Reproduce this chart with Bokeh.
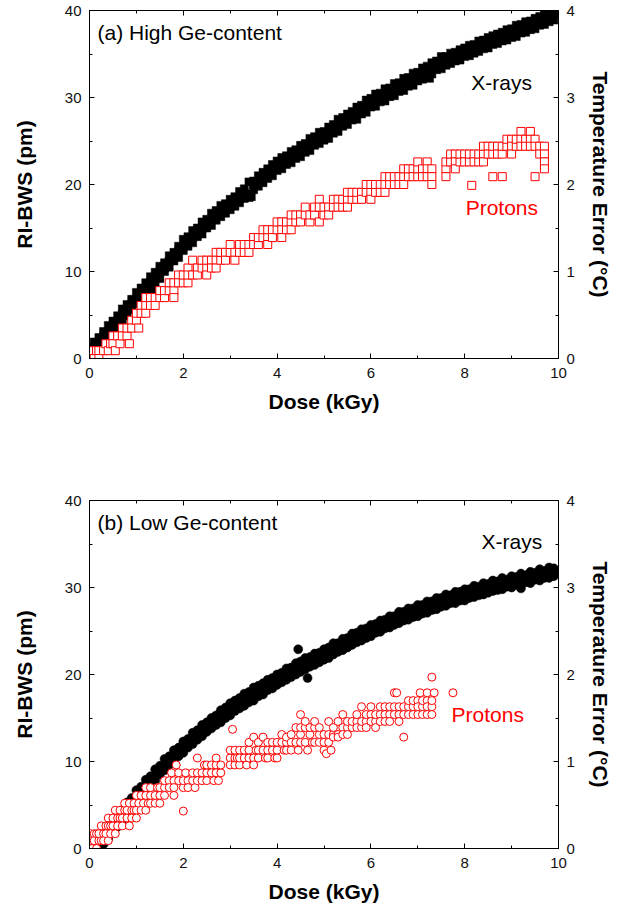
from bokeh.plotting import figure
from bokeh.layouts import column
from bokeh.models import (Range1d, LinearAxis, SingleIntervalTicker, Label,
                          ColumnDataSource, CustomJSTickFormatter)
from bokeh.embed import file_html
from bokeh.resources import INLINE

FONT = "Liberation Sans"
RED = "#FF0000"

# ---------------- data: panel (a) High Ge-content ----------------
dose_xa = [0.0, 0.1, 0.2, 0.3, 0.4, 0.5, 0.6, 0.7, 0.8, 0.9,
           1.0, 1.1, 1.2, 1.3, 1.4, 1.5, 1.6, 1.7, 1.8, 1.9,
           2.0, 2.1, 2.2, 2.3, 2.4, 2.5, 2.6, 2.7, 2.8, 2.9,
           3.0, 3.1, 3.2, 3.3, 3.4, 3.5, 3.6, 3.7, 3.8, 3.9,
           4.0, 4.1, 4.2, 4.3, 4.4, 4.5, 4.6, 4.7, 4.8, 4.9,
           5.0, 5.1, 5.2, 5.3, 5.4, 5.5, 5.6, 5.7, 5.8, 5.9,
           6.0, 6.1, 6.2, 6.3, 6.4, 6.5, 6.6, 6.7, 6.8, 6.9,
           7.0, 7.1, 7.2, 7.3, 7.4, 7.5, 7.6, 7.7, 7.8, 7.9,
           8.0, 8.1, 8.2, 8.3, 8.4, 8.5, 8.6, 8.7, 8.8, 8.9,
           9.0, 9.1, 9.2, 9.3, 9.4, 9.5, 9.6, 9.7, 9.8, 9.9]
xray_a_hi = [1.2, 1.9, 2.4, 3.1, 3.8, 4.3, 4.9, 5.7, 6.2, 6.8,
             7.6, 8.1, 8.7, 9.4, 9.9, 10.6, 11.0, 11.8, 12.2, 12.9,
             13.7, 14.0, 14.7, 15.0, 15.7, 16.0, 16.7, 17.0, 17.6, 17.8,
             18.3, 18.6, 19.2, 19.5, 20.3, 20.4, 21.0, 21.4, 21.8, 22.3,
             22.7, 23.1, 23.3, 23.8, 24.0, 24.5, 24.7, 25.3, 25.5, 26.0,
             26.1, 26.6, 26.9, 27.5, 27.7, 28.1, 28.4, 28.9, 29.1, 29.7,
             29.9, 30.4, 30.5, 31.0, 31.1, 31.6, 31.7, 32.2, 32.3, 32.8,
             32.9, 33.4, 33.6, 34.0, 34.2, 34.7, 34.7, 35.1, 35.2, 35.5,
             35.7, 36.0, 36.1, 36.5, 36.6, 36.9, 37.1, 37.3, 37.5, 37.8,
             37.9, 38.3, 38.4, 38.7, 38.8, 39.1, 39.3, 39.5, 39.7, 39.9]
xray_a_mid = [0.6, 1.3, 1.8, 2.6, 3.0, 3.8, 4.2, 5.1, 5.5, 6.3,
              6.8, 7.6, 8.0, 8.8, 9.2, 10.0, 10.4, 11.2, 11.6, 12.4,
              12.9, 13.6, 13.9, 14.6, 14.9, 15.6, 15.9, 16.6, 16.8, 17.4,
              17.6, 18.2, 18.4, 19.1, 18.9, 20.0, 20.3, 20.9, 21.1, 21.8,
              22.0, 22.6, 22.7, 23.2, 23.4, 23.9, 24.1, 24.7, 24.9, 25.4,
              25.5, 26.1, 26.3, 26.9, 27.1, 27.6, 27.8, 28.3, 28.5, 29.1,
              29.3, 29.8, 29.9, 30.4, 30.5, 31.0, 31.1, 31.6, 31.7, 32.2,
              32.3, 32.9, 33.0, 33.5, 33.6, 34.1, 34.1, 34.6, 34.6, 35.0,
              35.1, 35.5, 35.5, 36.0, 36.0, 36.4, 36.5, 36.9, 36.9, 37.3,
              37.3, 37.8, 37.8, 38.2, 38.2, 38.6, 38.7, 39.1, 39.1, 39.5]
xray_a_lo = [0.2, 0.6, 1.3, 1.8, 2.5, 3.1, 3.6, 4.4, 4.9, 5.6,
             6.3, 6.8, 7.6, 8.0, 8.8, 9.2, 10.0, 10.5, 11.2, 11.6,
             12.4, 12.9, 13.3, 14.0, 14.3, 15.0, 15.3, 15.9, 16.3, 16.7,
             17.1, 17.5, 17.9, 18.4, 18.5, 19.4, 19.8, 20.2, 20.7, 21.0,
             21.6, 21.8, 22.3, 22.5, 23.0, 23.2, 23.7, 23.9, 24.5, 24.7,
             25.1, 25.3, 25.9, 26.1, 26.7, 26.9, 27.4, 27.5, 28.1, 28.3,
             28.9, 29.0, 29.5, 29.6, 30.1, 30.2, 30.7, 30.8, 31.3, 31.4,
             31.9, 32.1, 32.6, 32.7, 33.2, 33.3, 33.7, 33.9, 34.2, 34.3,
             34.7, 34.8, 35.1, 35.3, 35.6, 35.7, 36.1, 36.2, 36.5, 36.6,
             36.9, 37.0, 37.4, 37.5, 37.8, 37.9, 38.3, 38.4, 38.7, 38.9]
xray_a_extra = [(3.45, 18.6), (1.35, 7.9), (7.25, 32.2)]

# protons (a): dose -> readings (pm)
protons_a = [
    (0.05, [0.0, 0.9]), (0.1, [0.0]), (0.15, [0.9]), (0.2, [0.9, 0.0]), (0.3, [0.9]),
    (0.35, [1.7]), (0.4, [0.9]), (0.45, [1.7]), (0.5, [2.6, 1.7]), (0.55, [0.9]),
    (0.6, [2.6]), (0.65, [1.7]), (0.7, [3.5, 2.6]), (0.8, [2.6, 3.5]), (0.85, [1.7]),
    (0.9, [4.4, 3.5]), (1.0, [4.4, 5.2]), (1.05, [3.5]), (1.1, [6.1, 5.2]),
    (1.2, [6.1, 5.2, 7.0]), (1.3, [6.1, 7.0]), (1.4, [7.0, 6.1]), (1.5, [7.0, 7.8]),
    (1.6, [7.0, 7.8]), (1.7, [7.8, 8.7]), (1.8, [7.8, 8.7, 7.0]), (1.9, [9.6, 8.7]),
    (2.0, [8.7, 9.6]), (2.1, [10.4, 8.7, 9.6]), (2.2, [9.6, 11.3]), (2.3, [10.4, 9.6]),
    (2.4, [10.4, 11.3]), (2.5, [10.4, 11.3, 9.6]), (2.6, [11.3, 10.4]),
    (2.7, [12.2, 11.3, 10.4]), (2.8, [11.3, 12.2]), (2.9, [12.2, 11.3]),
    (3.0, [12.2, 13.1]), (3.1, [12.2, 11.3]), (3.2, [13.1, 12.2]), (3.3, [12.2, 13.1]),
    (3.4, [13.1, 12.2]), (3.5, [13.9, 13.1]), (3.6, [13.1, 13.9]), (3.7, [13.9, 14.8]),
    (3.8, [13.9, 13.1, 14.8]), (3.9, [14.8, 13.9]), (4.0, [14.8, 15.7]),
    (4.1, [15.7, 14.8, 13.9]), (4.2, [14.8, 15.7]), (4.3, [15.7, 16.5, 14.8]),
    (4.4, [15.7, 16.5]), (4.5, [16.5, 15.7]), (4.6, [16.5, 17.4]), (4.7, [15.7, 16.5]),
    (4.8, [16.5, 17.4]), (4.9, [18.3, 17.4, 15.7]), (5.0, [16.5, 17.4]),
    (5.1, [17.4, 16.5]), (5.2, [17.4, 18.3]), (5.3, [18.3, 17.4]), (5.4, [17.4, 18.3]),
    (5.5, [18.3, 17.4, 19.1]), (5.6, [18.3, 19.1]), (5.7, [18.3, 19.1]),
    (5.8, [19.1, 18.3]), (5.9, [19.1, 20.0]), (6.0, [19.1, 18.3, 20.0]),
    (6.1, [19.1, 20.0]), (6.2, [20.0, 19.1]), (6.3, [20.0, 20.9, 19.1]),
    (6.4, [20.0, 20.9]), (6.5, [20.0, 20.9]), (6.6, [20.9, 20.0]),
    (6.7, [20.9, 21.8, 20.0]), (6.8, [20.9, 21.8]), (6.9, [21.8, 20.9]),
    (7.0, [20.9, 21.8, 22.6]), (7.1, [21.8, 20.9]), (7.2, [22.6, 21.8, 20.9]),
    (7.3, [21.8, 20.9, 20.0]), (7.6, [21.8, 22.6, 20.9]), (7.7, [22.6, 23.5]),
    (7.8, [23.5, 22.6, 21.8]), (7.9, [22.6, 23.5]), (8.0, [23.5, 22.6]),
    (8.1, [22.6, 23.5]), (8.15, [19.9]), (8.2, [23.5, 22.6]), (8.3, [22.6, 23.5]),
    (8.4, [23.5, 24.4, 22.6]), (8.5, [24.4, 23.5]), (8.6, [23.5, 24.4, 20.9]),
    (8.7, [24.4, 23.5]), (8.8, [23.5, 24.4, 20.9]), (8.9, [24.4, 25.2]),
    (9.0, [25.2, 24.4, 23.5]), (9.1, [24.4, 25.2]), (9.2, [26.1, 25.2, 24.4]),
    (9.3, [25.2, 24.4]), (9.4, [26.1, 25.2, 24.4]), (9.5, [25.2, 24.4, 20.9]),
    (9.6, [24.4, 23.5]), (9.7, [24.4, 23.5, 22.6, 21.8]),
]

# ---------------- data: panel (b) Low Ge-content ----------------
dose_xb = [0.2, 0.3, 0.4, 0.5, 0.6, 0.7, 0.8, 0.9,
           1.0, 1.1, 1.2, 1.3, 1.4, 1.5, 1.6, 1.7, 1.8, 1.9,
           2.0, 2.1, 2.2, 2.3, 2.4, 2.5, 2.6, 2.7, 2.8, 2.9,
           3.0, 3.1, 3.2, 3.3, 3.4, 3.5, 3.6, 3.7, 3.8, 3.9,
           4.0, 4.1, 4.2, 4.3, 4.4, 4.5, 4.6, 4.7, 4.8, 4.9,
           5.0, 5.1, 5.2, 5.3, 5.4, 5.5, 5.6, 5.7, 5.8, 5.9,
           6.0, 6.1, 6.2, 6.3, 6.4, 6.5, 6.6, 6.7, 6.8, 6.9,
           7.0, 7.1, 7.2, 7.3, 7.4, 7.5, 7.6, 7.7, 7.8, 7.9,
           8.0, 8.1, 8.2, 8.3, 8.4, 8.5, 8.6, 8.7, 8.8, 8.9,
           9.0, 9.1, 9.2, 9.3, 9.4, 9.5, 9.6, 9.7, 9.8, 9.9]
xray_b_hi = [0.9, 1.6, 2.5, 3.0, 3.9, 4.4, 5.3, 5.8,
             6.7, 7.1, 7.9, 8.3, 9.1, 9.5, 10.3, 10.6, 11.3, 11.6,
             12.3, 12.6, 13.3, 13.6, 14.2, 14.5, 15.0, 15.3, 15.9, 16.2,
             16.7, 17.0, 17.3, 17.8, 18.0, 18.5, 18.7, 19.0, 19.4, 19.6,
             20.0, 20.2, 20.7, 20.8, 21.3, 21.5, 21.9, 22.0, 22.4, 22.5,
             22.9, 23.1, 23.6, 23.6, 24.1, 24.2, 24.7, 24.8, 25.2, 25.3,
             25.7, 25.8, 26.2, 26.3, 26.7, 26.7, 27.2, 27.2, 27.6, 27.6,
             28.0, 28.0, 28.4, 28.4, 28.8, 28.8, 29.2, 29.1, 29.5, 29.5,
             29.8, 29.8, 30.2, 30.1, 30.5, 30.4, 30.8, 30.7, 31.1, 30.9,
             31.3, 31.2, 31.6, 31.4, 31.8, 31.7, 32.1, 31.9, 32.3, 32.2]
xray_b_mid = [0.3, 1.0, 1.8, 2.5, 3.2, 3.9, 4.6, 5.3,
              6.0, 6.6, 7.2, 7.8, 8.4, 9.0, 9.6, 10.1, 10.6, 11.1,
              11.6, 12.1, 12.6, 13.3, 13.5, 14.0, 14.4, 14.8, 15.2, 15.6,
              16.0, 16.4, 16.7, 17.1, 17.4, 17.8, 18.1, 18.4, 18.8, 19.1,
              19.4, 19.7, 20.0, 20.3, 20.6, 20.9, 21.2, 21.5, 21.7, 22.0,
              22.3, 22.6, 22.9, 23.1, 23.4, 23.7, 24.0, 24.2, 24.5, 24.8,
              25.0, 25.3, 25.5, 25.8, 26.0, 26.2, 26.5, 26.7, 26.9, 27.1,
              27.3, 27.5, 27.7, 27.9, 28.1, 28.3, 28.5, 28.6, 28.8, 29.0,
              29.1, 29.3, 29.5, 29.6, 29.8, 29.9, 30.1, 30.2, 30.4, 30.5,
              30.6, 30.8, 30.9, 31.0, 31.1, 31.3, 31.4, 31.5, 31.7, 31.8]
xray_b_lo = [0.0, 0.5, 1.1, 2.0, 2.5, 3.3, 3.9, 4.7,
             5.3, 6.1, 6.6, 7.3, 7.8, 8.5, 9.0, 9.6, 10.0, 10.6,
             11.0, 11.6, 12.0, 12.5, 12.9, 13.4, 13.8, 14.2, 14.5, 15.0,
             15.3, 15.8, 16.1, 16.4, 16.8, 17.0, 17.5, 17.7, 18.2, 18.4,
             18.8, 19.1, 19.4, 19.7, 20.0, 20.3, 20.6, 20.9, 21.1, 21.4,
             21.7, 22.0, 22.3, 22.6, 22.8, 23.1, 23.4, 23.7, 23.9, 24.2,
             24.4, 24.8, 24.9, 25.3, 25.4, 25.7, 25.9, 26.2, 26.3, 26.6,
             26.7, 27.0, 27.1, 27.4, 27.5, 27.8, 27.9, 28.2, 28.2, 28.5,
             28.5, 28.8, 28.9, 29.1, 29.2, 29.4, 29.6, 29.7, 29.8, 30.1,
             30.0, 30.3, 30.3, 30.6, 30.5, 30.9, 30.8, 31.1, 31.1, 31.3]
xray_b_extra = [(4.45, 22.9), (4.65, 19.6), (5.1, 21.9), (8.6, 30.7), (9.2, 29.9)]

protons_b = [
    (0.02, [0.9, 1.7]), (0.05, [0.0, 0.9]), (0.1, [1.7, 0.9]), (0.15, [0.0, 1.7]),
    (0.2, [0.9, 1.7]), (0.25, [2.6, 0.9]), (0.3, [1.7, 0.9]), (0.35, [2.6, 1.7]),
    (0.4, [3.5, 2.6, 0.9]), (0.45, [2.6, 1.7]), (0.5, [3.5, 2.6]), (0.55, [4.4, 1.7]),
    (0.6, [3.5, 2.6]), (0.65, [4.4, 3.5]), (0.7, [3.5, 2.6]), (0.75, [4.4, 5.2]),
    (0.8, [3.5, 4.4]), (0.85, [5.2, 2.6]), (0.9, [4.4, 3.5]), (0.95, [5.2, 4.4]),
    (1.0, [4.4, 6.1, 3.5]), (1.05, [5.2]), (1.1, [6.1, 4.4]), (1.15, [5.2]),
    (1.2, [6.1, 4.4, 7.0]), (1.25, [5.2]), (1.3, [6.1, 7.0, 5.2]), (1.4, [5.2, 6.1]),
    (1.45, [7.0]), (1.5, [6.1, 7.0, 5.2]), (1.6, [7.0, 7.8, 6.1]), (1.7, [7.8, 7.0]),
    (1.75, [8.7]), (1.8, [7.8, 6.1, 7.0]), (1.85, [9.6]), (1.9, [7.8, 8.7]),
    (2.0, [7.0, 7.8, 4.3]), (2.05, [8.7]), (2.1, [7.8, 7.0]), (2.2, [7.8, 8.7]),
    (2.25, [7.0]), (2.3, [8.7, 7.8, 10.4]), (2.4, [7.8, 8.7]), (2.45, [9.6]),
    (2.5, [8.7, 9.6, 7.8]), (2.6, [9.6, 8.7]), (2.65, [7.8]), (2.7, [9.6, 10.4, 8.7]),
    (2.75, [7.8]), (2.8, [8.7, 9.6]), (3.0, [10.4, 11.3, 9.6]), (3.05, [13.7]),
    (3.1, [9.6, 10.4, 11.3]), (3.15, [10.4]), (3.2, [11.3, 9.6, 10.4]),
    (3.3, [10.4, 11.3]), (3.35, [9.6]), (3.4, [11.3, 12.2, 10.4]),
    (3.5, [10.4, 12.8, 9.6]), (3.55, [11.3]), (3.6, [12.2, 11.3, 10.4]),
    (3.7, [11.3, 12.8]), (3.75, [10.4]), (3.8, [11.3, 12.2, 10.4]), (3.9, [12.2, 11.3]),
    (3.95, [10.4]), (4.0, [11.3, 12.2, 10.4]), (4.1, [12.2, 13.1]), (4.15, [11.3]),
    (4.2, [12.2, 11.3, 12.8]), (4.3, [13.1, 12.2, 11.3]), (4.4, [12.2, 13.9]),
    (4.45, [11.3]), (4.5, [13.1, 13.9, 12.2, 15.4]), (4.6, [13.9, 12.2, 14.6]),
    (4.65, [11.3]), (4.7, [13.1, 13.9]), (4.75, [12.2]), (4.8, [13.9, 14.6, 12.2]),
    (4.9, [13.1, 12.2, 13.9]), (5.0, [12.2, 13.1, 11.3]), (5.05, [10.9]),
    (5.1, [12.2, 13.1, 14.6]), (5.15, [11.3]), (5.2, [13.1, 13.9, 12.8]),
    (5.3, [13.1, 12.8, 14.6]), (5.4, [13.9, 13.1, 15.4]), (5.5, [13.9, 14.6, 13.1]),
    (5.6, [13.9, 14.6]), (5.7, [14.6, 13.9, 15.4]), (5.8, [13.9, 14.6, 16.3]),
    (5.9, [14.6, 15.4, 13.9]), (6.0, [15.4, 14.6, 16.3]), (6.1, [14.6, 15.4, 13.9]),
    (6.2, [15.4, 16.3, 14.6]), (6.3, [15.4, 14.6, 16.3]), (6.4, [15.4, 16.3, 14.6]),
    (6.5, [16.3, 15.4, 17.9]), (6.55, [17.9]), (6.6, [15.4, 16.3, 14.6]),
    (6.7, [16.3, 15.4, 12.8]), (6.8, [16.3, 17.0, 15.4]), (6.9, [16.3, 17.0, 15.4]),
    (7.0, [17.0, 16.3, 15.4]), (7.05, [17.9]), (7.1, [16.3, 17.0, 15.4]),
    (7.2, [17.0, 16.3, 17.9, 15.4]), (7.3, [16.3, 17.0, 19.7, 15.4]), (7.35, [17.9]),
    (7.75, [17.9]),
]

panel_titles = ["(a) High Ge-content", "(b) Low Ge-content"]
x_label = "Dose (kGy)"
y_label = "RI-BWS (pm)"
y2_label = "Temperature Error (\u00b0C)"


def flatten(pairs):
    xs, ys = [], []
    for d, vals in pairs:
        for v in vals:
            xs.append(d)
            ys.append(v)
    return xs, ys


def make_panel(title, dose_x, rows, extra, protons, marker, xsize, psize,
               top_border, bottom_border, title_pos, xr_pos, pr_pos):
    p = figure(frame_width=469, frame_height=348,
               x_range=Range1d(0, 10), y_range=Range1d(0, 40),
               output_backend="svg", toolbar_location=None,
               min_border_left=89, min_border_right=78,
               min_border_top=top_border, min_border_bottom=bottom_border,
               x_axis_location=None, y_axis_location=None)
    p.extra_y_ranges = {"t": Range1d(0, 4)}
    p.xgrid.visible = False
    p.ygrid.visible = False
    p.outline_line_color = "black"
    p.outline_line_width = 1
    p.background_fill_color = "white"
    p.border_fill_color = "white"

    def style(ax):
        ax.axis_line_color = "black"
        ax.major_tick_line_color = "black"
        ax.minor_tick_line_color = "black"
        ax.major_tick_in = 5
        ax.major_tick_out = 0
        ax.minor_tick_in = 3
        ax.minor_tick_out = 0
        ax.major_label_text_font = FONT
        ax.major_label_text_font_size = "15px"
        ax.major_label_text_color = "#111111"
        ax.axis_label_text_font = FONT
        ax.axis_label_text_font_size = "21px"
        ax.axis_label_text_font_style = "bold"
        ax.axis_label_text_color = "black"

    xb = LinearAxis(ticker=SingleIntervalTicker(interval=2, num_minor_ticks=2),
                    axis_label=x_label)
    style(xb)
    xb.major_label_standoff = 9
    xb.axis_label_standoff = 9
    p.add_layout(xb, "below")

    # top axis: ticks only (no labels)
    xt = LinearAxis(ticker=SingleIntervalTicker(interval=2, num_minor_ticks=2),
                    formatter=CustomJSTickFormatter(code="return ''"))
    style(xt)
    xt.major_label_standoff = 0
    xt.major_label_text_font_size = "1px"
    p.add_layout(xt, "above")

    yl = LinearAxis(ticker=SingleIntervalTicker(interval=10, num_minor_ticks=2),
                    axis_label=y_label)
    style(yl)
    yl.major_label_standoff = 8
    yl.axis_label_standoff = 26
    p.add_layout(yl, "left")

    yr = LinearAxis(y_range_name="t",
                    ticker=SingleIntervalTicker(interval=1, num_minor_ticks=2),
                    axis_label=y2_label)
    style(yr)
    yr.major_label_standoff = 8
    yr.axis_label_standoff = 11
    p.add_layout(yr, "right")

    for vals in rows:
        s = ColumnDataSource(dict(x=dose_x, y=vals))
        p.scatter("x", "y", source=s, marker=marker, size=xsize,
                  fill_color="black", line_color="black", line_width=0.5)
    ex_x = [d for d, v in extra]
    ex_y = [v for d, v in extra]
    p.scatter(ex_x, ex_y, marker=marker, size=xsize,
              fill_color="black", line_color="black", line_width=0.5)

    px, py = flatten(protons)
    p.scatter(px, py, marker=marker, size=psize, fill_color="white",
              line_color=RED, line_width=1)

    p.add_layout(Label(x=title_pos[0], y=title_pos[1], text=title,
                       text_font=FONT, text_font_size="21px",
                       text_baseline="middle", text_color="black"))
    p.add_layout(Label(x=xr_pos[0], y=xr_pos[1], text="X-rays",
                       text_font=FONT, text_font_size="21px",
                       text_baseline="middle", text_color="black"))
    p.add_layout(Label(x=pr_pos[0], y=pr_pos[1], text="Protons",
                       text_font=FONT, text_font_size="21px",
                       text_baseline="middle", text_color=RED))
    return p


pa = make_panel(panel_titles[0], dose_xa, [xray_a_lo, xray_a_mid, xray_a_hi],
                xray_a_extra, protons_a, "square", 8, 8, 10, 92,
                (0.17, 37.5), (8.14, 31.7), (8.02, 17.4))
pb = make_panel(panel_titles[1], dose_xb, [xray_b_lo, xray_b_mid, xray_b_hi],
                xray_b_extra, protons_b, "circle", 9, 8, 50, 62,
                (0.17, 37.5), (8.36, 35.3), (7.72, 15.4))

layout = column(pa, pb, spacing=0)
open("out.html", "w").write(file_html(layout, INLINE))
